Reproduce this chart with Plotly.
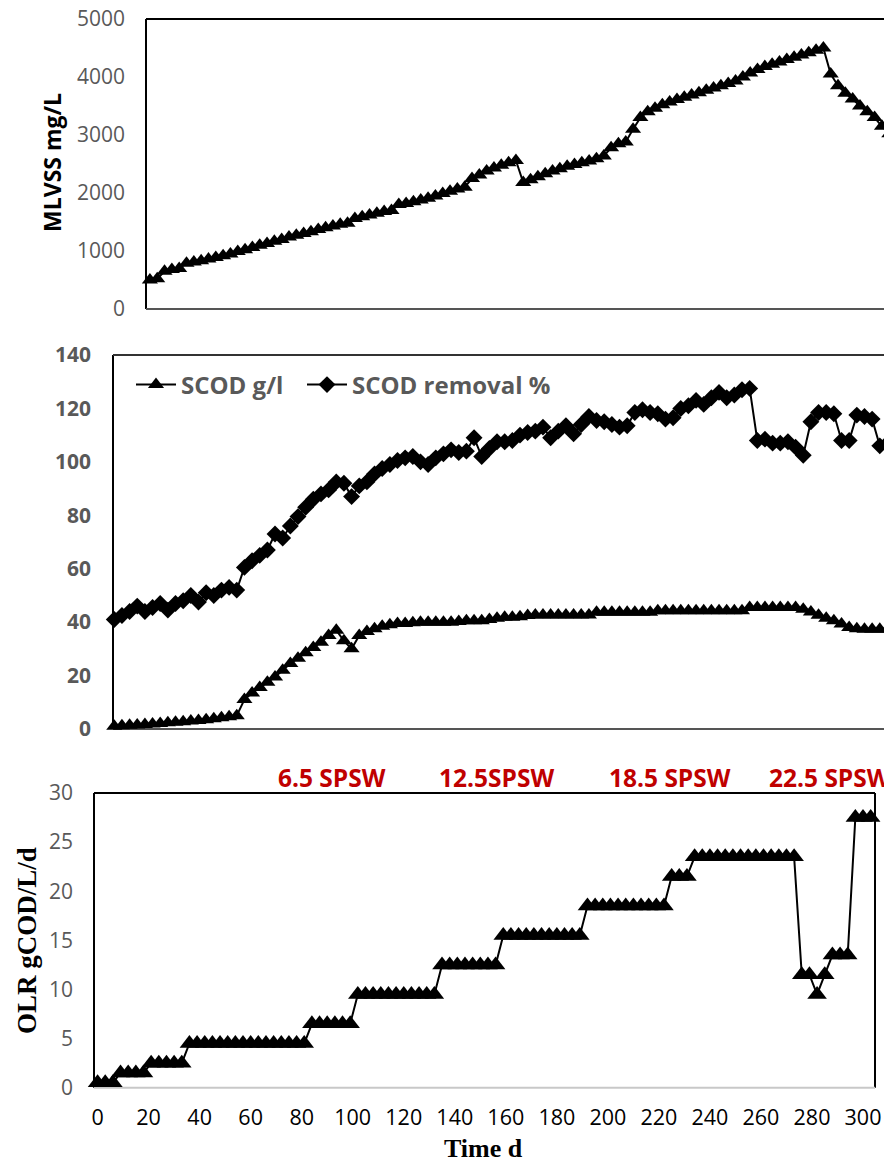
import plotly.graph_objects as go

W, H = 892, 1162
BODY = 8  # default page margin of the html body

days = [0, 3, 6, 9, 12, 15, 18, 21, 24, 27, 30, 33, 36, 39, 42, 45, 48, 51, 54, 57,
        60, 63, 66, 69, 72, 75, 78, 81, 84, 87, 90, 93, 96, 99, 102, 105, 108, 111, 114, 117,
        120, 123, 126, 129, 132, 135, 138, 141, 144, 147, 150, 153, 156, 159, 162, 165, 168, 171, 174, 177,
        180, 183, 186, 189, 192, 195, 198, 201, 204, 207, 210, 213, 216, 219, 222, 225, 228, 231, 234, 237,
        240, 243, 246, 249, 252, 255, 258, 261, 264, 267, 270, 273, 276, 279, 282, 285, 288, 291, 294, 297,
        300, 303]

mlvss = [500, 520, 650, 680, 700, 790, 810, 830, 860, 890, 920, 950, 990, 1020, 1060, 1100, 1130, 1170, 1200, 1240,
         1270, 1300, 1330, 1370, 1400, 1430, 1460, 1480, 1560, 1590, 1620, 1650, 1680, 1700, 1800, 1820, 1850, 1880, 1910, 1950,
         1990, 2030, 2070, 2100, 2250, 2310, 2380, 2430, 2480, 2520, 2560, 2180, 2230, 2280, 2330, 2380, 2420, 2460, 2490, 2520,
         2550, 2590, 2640, 2780, 2850, 2880, 3100, 3300, 3400, 3460, 3520, 3570, 3610, 3650, 3690, 3730, 3770, 3810, 3850, 3890,
         3930, 4000, 4070, 4130, 4180, 4220, 4260, 4300, 4340, 4380, 4420, 4460, 4500, 4050, 3850, 3720, 3620, 3500, 3400, 3300,
         3150, 3020]

scod_gl = [1.0, 1.2, 1.4, 1.5, 1.7, 1.9, 2.1, 2.3, 2.5, 2.7, 3.0, 3.2, 3.5, 3.8, 4.2, 4.6, 5.0, 11.0, 13.5, 15.5,
           17.5, 19.5, 22.0, 24.5, 26.5, 28.5, 30.5, 32.5, 35.0, 37.0, 33.0, 30.0, 35.0, 36.5, 37.5, 38.5, 39.0, 39.5, 39.5, 39.8,
           40.0, 40.0, 40.0, 40.0, 40.0, 40.2, 40.5, 40.5, 40.5, 41.0, 41.5, 41.8, 41.8, 42.0, 42.5, 42.7, 42.7, 42.7, 42.7, 42.7,
           42.7, 42.7, 42.7, 43.7, 43.7, 43.7, 43.7, 43.7, 43.7, 43.7, 43.7, 44.3, 44.3, 44.3, 44.3, 44.3, 44.3, 44.3, 44.3, 44.3,
           44.3, 44.3, 44.3, 45.5, 45.5, 45.5, 45.5, 45.5, 45.5, 45.5, 44.8, 43.8, 42.6, 41.5, 40.5, 39.3, 38.0, 37.5, 37.3, 37.3,
           37.3, 37.3]

scod_removal = [41, 42.5, 44, 46, 44, 45.5, 47, 44.5, 47, 48, 50, 47.5, 51, 50, 52, 53, 52, 60.5, 63, 65,
                67, 73, 71.5, 76, 79.5, 83, 86, 88, 89.5, 92.5, 92, 87, 91, 92.5, 95.5, 97.5, 99, 100.5, 101.5, 102,
                100, 99, 101.5, 103, 104.5, 103.5, 104, 109, 102, 105, 107.5, 107.5, 108, 110, 111, 111.5, 113, 109, 111.5, 113.5,
                110.5, 114, 117, 115.5, 115, 114, 113, 113.5, 118.5, 119.5, 118.5, 118, 116, 116.5, 120, 121, 123, 121.5, 124, 126,
                124, 125, 127, 127.5, 108, 108.5, 107, 107, 107.5, 105.5, 102.5, 115, 118.5, 118.5, 118, 108, 108, 117.5, 117, 116,
                106, 107]

olr = [0.5, 0.5, 0.5, 1.5, 1.5, 1.5, 1.5, 2.5, 2.5, 2.5, 2.5, 2.5, 4.5, 4.5, 4.5, 4.5, 4.5, 4.5, 4.5, 4.5,
       4.5, 4.5, 4.5, 4.5, 4.5, 4.5, 4.5, 4.5, 6.5, 6.5, 6.5, 6.5, 6.5, 6.5, 9.5, 9.5, 9.5, 9.5, 9.5, 9.5,
       9.5, 9.5, 9.5, 9.5, 9.5, 12.5, 12.5, 12.5, 12.5, 12.5, 12.5, 12.5, 12.5, 15.5, 15.5, 15.5, 15.5, 15.5, 15.5, 15.5,
       15.5, 15.5, 15.5, 15.5, 18.5, 18.5, 18.5, 18.5, 18.5, 18.5, 18.5, 18.5, 18.5, 18.5, 18.5, 21.5, 21.5, 21.5, 23.5, 23.5,
       23.5, 23.5, 23.5, 23.5, 23.5, 23.5, 23.5, 23.5, 23.5, 23.5, 23.5, 23.5, 11.5, 11.5, 9.5, 11.5, 13.5, 13.5, 13.5, 27.5,
       27.5, 27.5]

phase_labels = ["6.5 SPSW", "12.5SPSW", "18.5 SPSW", "22.5 SPSW"]
phase_label_days = [92, 156.5, 224.5, 287]

mlvss_ticks = [0, 1000, 2000, 3000, 4000, 5000]
scod_ticks = [0, 20, 40, 60, 80, 100, 120, 140]
olr_ticks = [0, 5, 10, 15, 20, 25, 30]
time_ticks = [0, 20, 40, 60, 80, 100, 120, 140, 160, 180, 200, 220, 240, 260, 280, 300]


def px_x(p):
    return (p - BODY) / W


def px_y(p):
    return 1 - (p - BODY) / H


GRAY = "#595959"
SANS = "Open Sans"
SERIF = "Liberation Serif"

fig = go.Figure()

fig.add_trace(go.Scatter(
    x=days, y=mlvss, mode="lines+markers", name="MLVSS",
    line=dict(color="black", width=2),
    marker=dict(symbol="triangle-up", size=14, color="black"),
    xaxis="x", yaxis="y", showlegend=False, cliponaxis=False))

fig.add_trace(go.Scatter(
    x=days, y=scod_gl, mode="lines+markers", name="SCOD g/l",
    line=dict(color="black", width=2),
    marker=dict(symbol="triangle-up", size=14, color="black"),
    xaxis="x2", yaxis="y2", showlegend=True, cliponaxis=False, legendwidth=116))
fig.add_trace(go.Scatter(
    x=days, y=scod_removal, mode="lines+markers", name="SCOD removal %",
    line=dict(color="black", width=2),
    marker=dict(symbol="diamond", size=13, color="black"),
    xaxis="x2", yaxis="y2", showlegend=True, cliponaxis=False))

fig.add_trace(go.Scatter(
    x=days, y=olr, mode="lines+markers", name="OLR",
    line=dict(color="black", width=2),
    marker=dict(symbol="triangle-up", size=17, color="black"),
    xaxis="x3", yaxis="y3", showlegend=False, cliponaxis=False))

top_dom_y = [px_y(309), px_y(19)]
mid_dom_y = [px_y(729), px_y(355)]
bot_dom_y = [px_y(1087.7), px_y(793)]

fig.update_layout(
    width=W, height=H,
    margin=dict(l=0, r=0, t=0, b=0, autoexpand=False),
    paper_bgcolor="white", plot_bgcolor="white",
    font=dict(family=SANS, color=GRAY),
    xaxis=dict(domain=[px_x(146), 1.0], range=[-1.6, 307.4], showticklabels=False,
               showgrid=False, zeroline=False, showline=False, ticks="", automargin=False),
    yaxis=dict(domain=top_dom_y, range=[0, 5000], tickvals=mlvss_ticks,
               tickfont=dict(family=SANS, size=21, color=GRAY),
               showgrid=False, zeroline=False, showline=False, ticks="",
               ticklabelstandoff=20, anchor="x", automargin=False, ticklabeloverflow="allow"),
    xaxis2=dict(domain=[px_x(113), px_x(890)], range=[-0.5, 304], showticklabels=False,
                showgrid=False, zeroline=False, showline=False, ticks="", anchor="y2",
                automargin=False),
    yaxis2=dict(domain=mid_dom_y, range=[0, 140], tickvals=scod_ticks,
                tickfont=dict(family=SANS, size=21, color=GRAY, weight="bold"),
                showgrid=False, zeroline=False, showline=False, ticks="",
                ticklabelstandoff=21, anchor="x2", automargin=False, ticklabeloverflow="allow"),
    xaxis3=dict(domain=[px_x(94), px_x(875)], range=[-1.4, 304.7], tickvals=time_ticks,
                tickfont=dict(family=SANS, size=21.5, color="black"),
                showgrid=False, zeroline=False, showline=False, ticks="",
                ticklabelstandoff=15, anchor="y3", automargin=False, ticklabeloverflow="allow"),
    yaxis3=dict(domain=bot_dom_y, range=[0, 30], tickvals=olr_ticks,
                tickfont=dict(family=SANS, size=21, color=GRAY),
                showgrid=False, zeroline=False, showline=False, ticks="",
                ticklabelstandoff=20, anchor="x3", automargin=False, ticklabeloverflow="allow"),
    legend=dict(orientation="h", x=px_x(131), y=px_y(385), xanchor="left", yanchor="middle",
                bgcolor="rgba(0,0,0,0)", font=dict(family=SANS, size=24, color=GRAY, weight="bold"),
                itemwidth=40),
)

shapes = []


def border(xref, yref, x0, y0, x1, y1, color, width=2):
    shapes.append(dict(type="line", xref=xref, yref=yref, x0=x0, y0=y0, x1=x1, y1=y1,
                       line=dict(color=color, width=width), layer="below"))


border("x domain", "y domain", 0, 0, 0, 1, "black")
border("x domain", "y domain", 0, 1, 1, 1, "black")
border("x domain", "y domain", 0, 0, 1, 0, "#555555")
border("x2 domain", "y2 domain", 0, 0, 0, 1, "black")
border("x2 domain", "y2 domain", 0, 1, 1, 1, "#333333")
border("x2 domain", "y2 domain", 1, 0, 1, 1, "#333333")
border("x2 domain", "y2 domain", 0, 0, 1, 0, "#555555")
border("x3 domain", "y3 domain", 0, 0, 0, 1, "black")
border("x3 domain", "y3 domain", 0, 1, 1, 1, "black")
border("x3 domain", "y3 domain", 1, 0, 1, 1, "black")
border("x3 domain", "y3 domain", 0, 0, 1, 0, "#c8c8c8")
fig.update_layout(shapes=shapes)

annotations = [
    dict(text="<b>MLVSS mg/L</b>", x=px_x(52), y=px_y(163), xref="paper", yref="paper",
         xanchor="center", yanchor="middle",
         showarrow=False, textangle=-90, font=dict(family=SANS, size=23, color="black")),
    dict(text="<b>OLR gCOD/L/d</b>", x=px_x(27), y=px_y(941), xref="paper", yref="paper",
         xanchor="center", yanchor="middle",
         showarrow=False, textangle=-90, font=dict(family=SERIF, size=27, color="black")),
    dict(text="<b>Time d</b>", x=px_x(483), y=px_y(1148), xref="paper", yref="paper",
         xanchor="center", yanchor="middle",
         showarrow=False, font=dict(family=SERIF, size=26, color="black")),
]
for lbl, d in zip(phase_labels, phase_label_days):
    annotations.append(dict(text="<b>" + lbl + "</b>", x=d, xref="x3", y=px_y(777), yref="paper",
                            xanchor="center", yanchor="middle",
                            showarrow=False, font=dict(family=SANS, size=24.5, color="#C00000")))
fig.update_layout(annotations=annotations)

fig.write_html("out.html")
